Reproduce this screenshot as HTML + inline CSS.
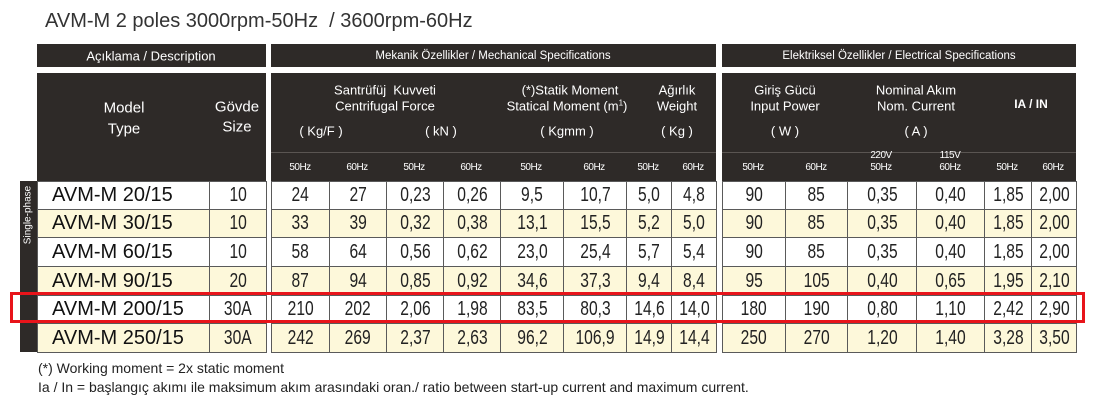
<!DOCTYPE html>
<html><head><meta charset="utf-8"><style>
body{margin:0;width:1095px;height:413px;background:#fff;position:relative;overflow:hidden;font-family:"Liberation Sans",sans-serif;}
.a{position:absolute;}
.dk{position:absolute;background:#2e2a28;}
.t{position:absolute;color:#fff;white-space:nowrap;transform:translate(-50%,-50%);font-size:13px;}
.hz{font-size:10px;letter-spacing:-0.5px;text-align:center;line-height:12px;}
table{position:absolute;border-collapse:collapse;table-layout:fixed;}
td{border:1px solid #5a5a5a;padding:0;text-align:center;font-family:"Liberation Sans",sans-serif;font-size:20px;color:#222;overflow:hidden;white-space:nowrap;}
td span{display:inline-block;transform:scaleX(0.78);}
tr:nth-child(even) td{background:#fdf8da;}
tr:nth-child(odd) td{background:#fff;}
td.m{text-align:left;padding-left:14px;font-size:20px;color:#111;}
</style></head><body>
<div class="a" style="left:45px;top:10px;font-size:20px;color:#333;">AVM-M 2 poles 3000rpm-50Hz&nbsp; / 3600rpm-60Hz</div>

<div class="dk" style="left:37px;top:44px;width:229px;height:23px"></div>
<div class="dk" style="left:271px;top:44px;width:445px;height:23px"></div>
<div class="dk" style="left:722px;top:44px;width:354px;height:23px"></div>
<div class="dk" style="left:37px;top:73px;width:229px;height:108px"></div>
<div class="dk" style="left:271px;top:73px;width:445px;height:108px"></div>
<div class="dk" style="left:722px;top:73px;width:354px;height:108px"></div>
<div class="a" style="left:271px;top:152px;width:445px;height:1px;background:#5a5552"></div>
<div class="a" style="left:722px;top:152px;width:354px;height:1px;background:#5a5552"></div>
<div class="dk" style="left:20px;top:181px;width:17px;height:171px"></div>
<div class="a" style="left:28px;top:215px;color:#fff;font-size:10px;transform:translate(-50%,-50%) rotate(-90deg);white-space:nowrap">Single-phase</div>

<div class="t" style="left:151px;top:56px">Açıklama / Description</div>
<div class="t" style="left:493px;top:56px;font-size:11.5px">Mekanik Özellikler / Mechanical Specifications</div>
<div class="t" style="left:899px;top:56px;font-size:11.5px">Elektriksel Özellikler / Electrical Specifications</div>

<div class="t" style="left:124px;top:108px;font-size:15px">Model</div>
<div class="t" style="left:124px;top:129px;font-size:15px">Type</div>
<div class="t" style="left:237px;top:107px;font-size:15px">Gövde</div>
<div class="t" style="left:237px;top:127px;font-size:15px">Size</div>

<div class="t" style="left:385px;top:90px">Santrüfüj&nbsp; Kuvveti</div>
<div class="t" style="left:385px;top:106px">Centrifugal Force</div>
<div class="t" style="left:321px;top:131px">( Kg/F )</div>
<div class="t" style="left:441px;top:131px">( kN )</div>
<div class="t" style="left:570px;top:90px">(*)Statik Moment</div>
<div class="t" style="left:567px;top:106px">Statical Moment (m<sup style="font-size:8px">1</sup>)</div>
<div class="t" style="left:567px;top:131px">( Kgmm )</div>
<div class="t" style="left:677px;top:90px">Ağırlık</div>
<div class="t" style="left:677px;top:106px">Weight</div>
<div class="t" style="left:677px;top:131px">( Kg )</div>

<div class="t" style="left:785px;top:90px">Giriş Gücü</div>
<div class="t" style="left:785px;top:106px">Input Power</div>
<div class="t" style="left:785px;top:131px">( W )</div>
<div class="t" style="left:916px;top:90px">Nominal Akım</div>
<div class="t" style="left:916px;top:106px">Nom. Current</div>
<div class="t" style="left:916px;top:131px">( A )</div>
<div class="t" style="left:1031px;top:104px;font-weight:bold;font-size:12px">IA / IN</div>

<div class="t hz" style="left:300px;top:168px">50Hz</div>
<div class="t hz" style="left:357px;top:168px">60Hz</div>
<div class="t hz" style="left:414px;top:168px">50Hz</div>
<div class="t hz" style="left:471px;top:168px">60Hz</div>
<div class="t hz" style="left:531px;top:168px">50Hz</div>
<div class="t hz" style="left:594px;top:168px">60Hz</div>
<div class="t hz" style="left:648px;top:168px">50Hz</div>
<div class="t hz" style="left:693px;top:168px">60Hz</div>
<div class="t hz" style="left:753px;top:168px">50Hz</div>
<div class="t hz" style="left:816px;top:168px">60Hz</div>
<div class="t hz" style="left:881px;top:162px">220V<br>50Hz</div>
<div class="t hz" style="left:950px;top:162px">115V<br>60Hz</div>
<div class="t hz" style="left:1007px;top:168px">50Hz</div>
<div class="t hz" style="left:1053px;top:168px">60Hz</div>

<table style="left:37px;top:181px;width:229px">
<colgroup><col style="width:172px"><col style="width:57px"></colgroup>
<tr style="height:28px"><td class="m">AVM-M 20/15</td><td><span>10</span></td></tr>
<tr style="height:28px"><td class="m">AVM-M 30/15</td><td><span>10</span></td></tr>
<tr style="height:29px"><td class="m">AVM-M 60/15</td><td><span>10</span></td></tr>
<tr style="height:29px"><td class="m">AVM-M 90/15</td><td><span>20</span></td></tr>
<tr style="height:28px"><td class="m">AVM-M 200/15</td><td><span>30A</span></td></tr>
<tr style="height:29px"><td class="m">AVM-M 250/15</td><td><span>30A</span></td></tr>
</table>

<table style="left:271px;top:181px;width:445px">
<colgroup><col style="width:58px"><col style="width:57px"><col style="width:57px"><col style="width:57px"><col style="width:63px"><col style="width:63px"><col style="width:45px"><col style="width:45px"></colgroup>
<tr style="height:28px"><td><span>24</span></td><td><span>27</span></td><td><span>0,23</span></td><td><span>0,26</span></td><td><span>9,5</span></td><td><span>10,7</span></td><td><span>5,0</span></td><td><span>4,8</span></td></tr>
<tr style="height:28px"><td><span>33</span></td><td><span>39</span></td><td><span>0,32</span></td><td><span>0,38</span></td><td><span>13,1</span></td><td><span>15,5</span></td><td><span>5,2</span></td><td><span>5,0</span></td></tr>
<tr style="height:29px"><td><span>58</span></td><td><span>64</span></td><td><span>0,56</span></td><td><span>0,62</span></td><td><span>23,0</span></td><td><span>25,4</span></td><td><span>5,7</span></td><td><span>5,4</span></td></tr>
<tr style="height:29px"><td><span>87</span></td><td><span>94</span></td><td><span>0,85</span></td><td><span>0,92</span></td><td><span>34,6</span></td><td><span>37,3</span></td><td><span>9,4</span></td><td><span>8,4</span></td></tr>
<tr style="height:28px"><td><span>210</span></td><td><span>202</span></td><td><span>2,06</span></td><td><span>1,98</span></td><td><span>83,5</span></td><td><span>80,3</span></td><td><span>14,6</span></td><td><span>14,0</span></td></tr>
<tr style="height:29px"><td><span>242</span></td><td><span>269</span></td><td><span>2,37</span></td><td><span>2,63</span></td><td><span>96,2</span></td><td><span>106,9</span></td><td><span>14,9</span></td><td><span>14,4</span></td></tr>
</table>

<table style="left:722px;top:181px;width:354px">
<colgroup><col style="width:63px"><col style="width:62px"><col style="width:69px"><col style="width:68px"><col style="width:47px"><col style="width:45px"></colgroup>
<tr style="height:28px"><td><span>90</span></td><td><span>85</span></td><td><span>0,35</span></td><td><span>0,40</span></td><td><span>1,85</span></td><td><span>2,00</span></td></tr>
<tr style="height:28px"><td><span>90</span></td><td><span>85</span></td><td><span>0,35</span></td><td><span>0,40</span></td><td><span>1,85</span></td><td><span>2,00</span></td></tr>
<tr style="height:29px"><td><span>90</span></td><td><span>85</span></td><td><span>0,35</span></td><td><span>0,40</span></td><td><span>1,85</span></td><td><span>2,00</span></td></tr>
<tr style="height:29px"><td><span>95</span></td><td><span>105</span></td><td><span>0,40</span></td><td><span>0,65</span></td><td><span>1,95</span></td><td><span>2,10</span></td></tr>
<tr style="height:28px"><td><span>180</span></td><td><span>190</span></td><td><span>0,80</span></td><td><span>1,10</span></td><td><span>2,42</span></td><td><span>2,90</span></td></tr>
<tr style="height:29px"><td><span>250</span></td><td><span>270</span></td><td><span>1,20</span></td><td><span>1,40</span></td><td><span>3,28</span></td><td><span>3,50</span></td></tr>
</table>

<div class="a" style="left:10px;top:292px;width:1069px;height:25px;border:3px solid #e8141a"></div>

<div class="a" style="left:38px;top:360px;font-size:14px;color:#222">(*) Working moment = 2x static moment</div>
<div class="a" style="left:38px;top:379px;font-size:14px;color:#222">Ia / In = başlangıç akımı ile maksimum akım arasındaki oran./ ratio between start-up current and maximum current.</div>
</body></html>
